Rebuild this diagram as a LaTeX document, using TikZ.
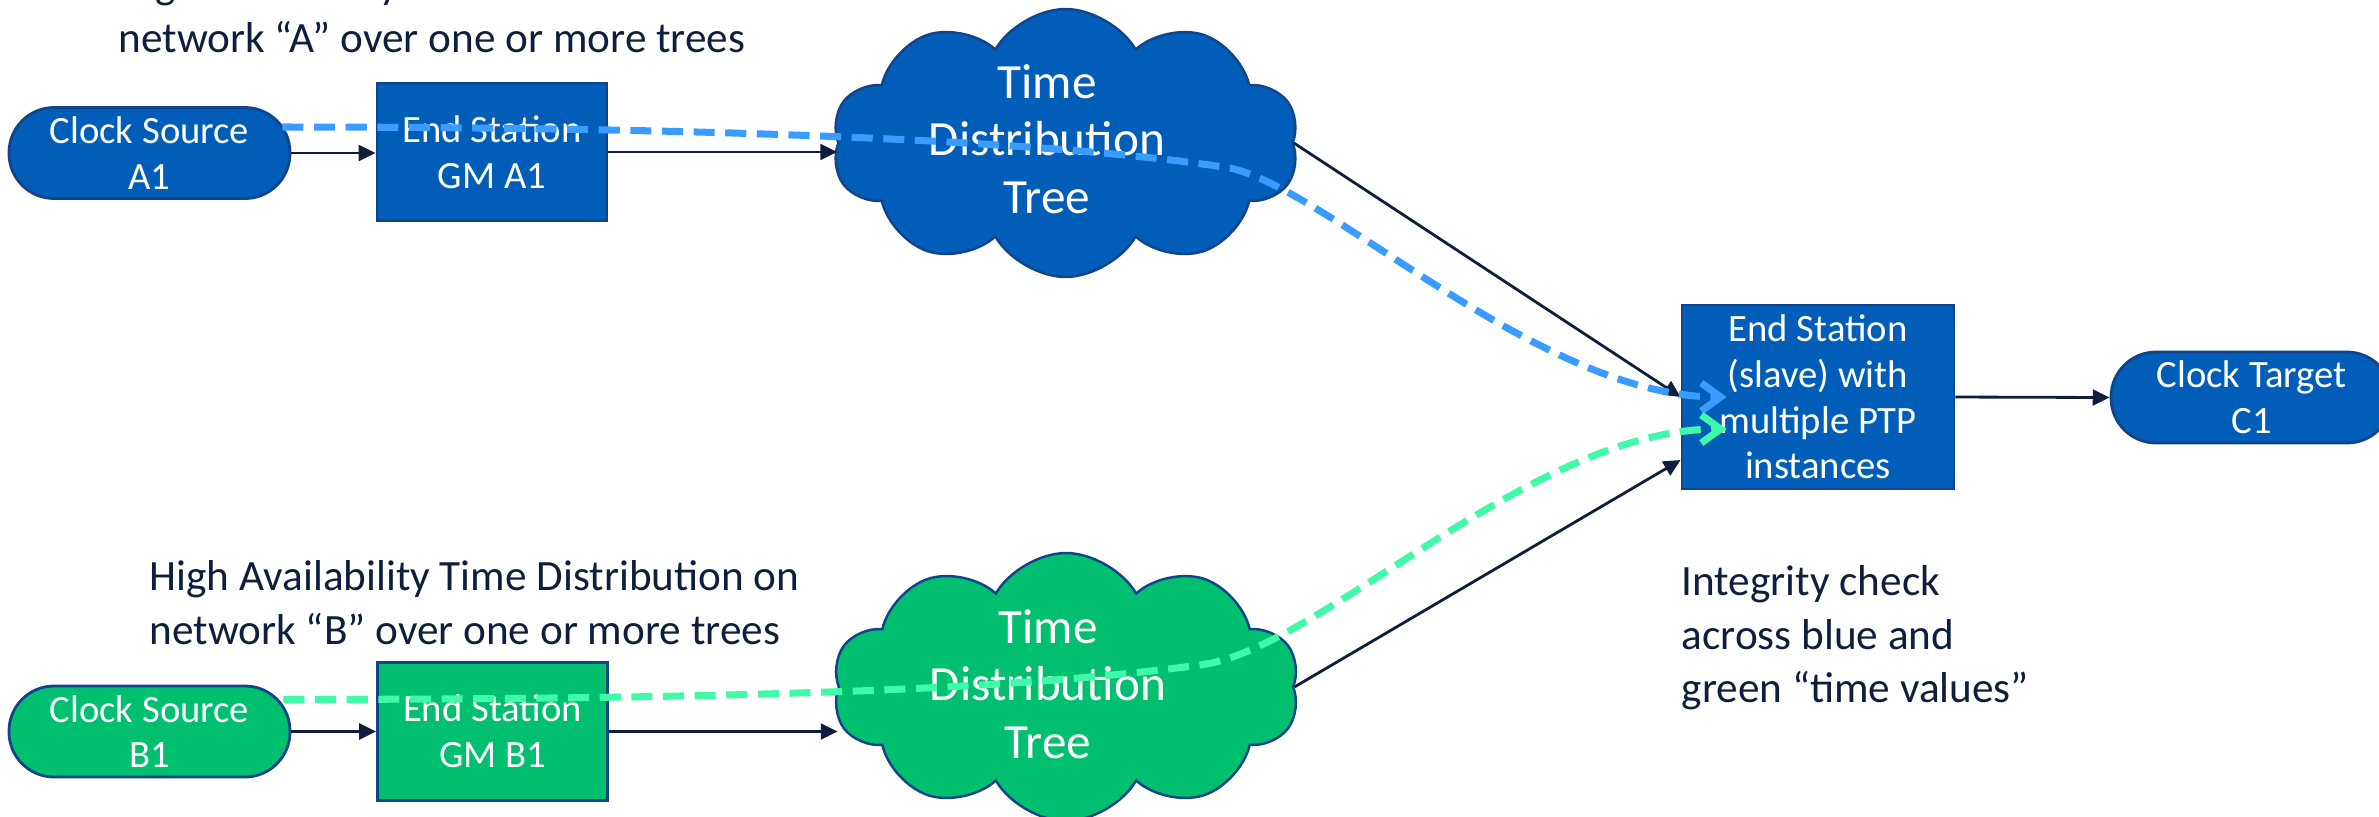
\documentclass[tikz,border=0pt]{standalone}
\usepackage{fontspec}
\setmainfont{Carlito}
\usetikzlibrary{shapes.symbols,arrows.meta}
\definecolor{ptpblue}{RGB}{0,94,184}
\definecolor{ptpgreen}{RGB}{0,191,111}
\definecolor{edgeblue}{RGB}{18,68,140}
\definecolor{dashblue}{RGB}{59,156,255}
\definecolor{dashgreen}{RGB}{64,250,168}
\definecolor{ink}{RGB}{14,30,60}

\begin{document}
\begin{tikzpicture}[
  box/.style={draw=edgeblue,line width=0.8pt,fill=ptpblue,text=white,align=center,inner sep=0pt,font=\fontsize{11}{13}\selectfont},
  pill/.style={box,rounded corners=4.5mm,minimum width=2.81cm,minimum height=0.91cm},
  station/.style={box,minimum width=2.30cm,minimum height=1.38cm},
  tree/.style={cloud,cloud puffs=10,cloud puff arc=120,aspect=1.74,draw=edgeblue,line width=0.7pt,minimum width=4.67cm,minimum height=2.68cm,inner sep=0pt},
  treetext/.style={text=white,align=center,font=\fontsize{14}{16.3}\selectfont},
  note/.style={anchor=north west,align=left,text=ink,inner sep=0pt,font=\fontsize{12.3}{15.2}\selectfont},
  link/.style={draw=ink,line width=0.8pt,-{Triangle[length=4.8pt,width=4.5pt]}},
  trace/.style={line width=2pt,dash pattern=on 6pt off 3pt,-{Straight Barb[length=5.5pt,width=8pt]}}
]
\useasboundingbox (0,0) rectangle (23.79,-8.16);

\node[note] (noteA) at (1.18,0.32) {High Availability Time Distribution on\\network “A” over one or more trees};
\node[note] (noteB) at (1.49,-5.60) {High Availability Time Distribution on\\network “B” over one or more trees};
\node[note] (check) at (16.81,-5.65) {Integrity check\\across blue and\\green “time values”};

\node[pill] (srcA) at (1.495,-1.53) {Clock Source\\A1};
\node[station] (gmA) at (4.92,-1.52) {End Station\\GM A1};
\node[tree,fill=ptpblue] (treeA) at (10.655,-1.43) {};
\node[treetext] (treeAtxt) at (10.47,-1.39) {Time\\Distribution\\Tree};

\node[pill,fill=ptpgreen] (srcB) at (1.495,-7.315) {Clock Source\\B1};
\node[station,fill=ptpgreen] (gmB) at (4.925,-7.315) {End Station\\GM B1};
\node[tree,fill=ptpgreen] (treeB) at (10.66,-6.87) {};
\node[treetext] (treeBtxt) at (10.48,-6.84) {Time\\Distribution\\Tree};

\node[box,minimum width=2.72cm,minimum height=1.84cm] (slave) at (18.18,-3.97) {End Station\\(slave) with\\multiple PTP\\instances};
\node[pill] (tgt) at (22.515,-3.975) {Clock Target\\C1};

\draw[link] (srcA.east) -- (srcA.east -| gmA.west);
\draw[link] (gmA.east) -- (gmA.east -| treeA.west);
\draw[link] (srcB.east) -- (srcB.east -| gmB.west);
\draw[link] (gmB.east) -- (gmB.east -| treeB.west);
\draw[link] (treeA.east) -- (slave.west);
\draw[link] (treeB.east) -- ([yshift=-6.3mm]slave.west);
\draw[link] (slave.east) -- (tgt.west);

\coordinate (blueS) at ([xshift=-0.9mm,yshift=2.6mm]srcA.east);
\coordinate (blueE) at ([xshift=4.6mm]slave.west);
\coordinate (greenS) at ([xshift=-0.8mm,yshift=3.2mm]srcB.east);
\coordinate (greenE) at ([xshift=4.6mm,yshift=-3.2mm]slave.west);
\draw[trace,dashblue] (blueS) .. controls (7.00,-1.27) and (10.50,-1.40) .. (12.30,-1.68)
  .. controls (13.30,-1.90) and (15.40,-3.97) .. (blueE);
\draw[trace,dashgreen] (greenS) .. controls (7.00,-6.99) and (10.00,-6.92) .. (12.00,-6.65)
  .. controls (13.20,-6.50) and (15.30,-4.29) .. (greenE);
\end{tikzpicture}
\end{document}
